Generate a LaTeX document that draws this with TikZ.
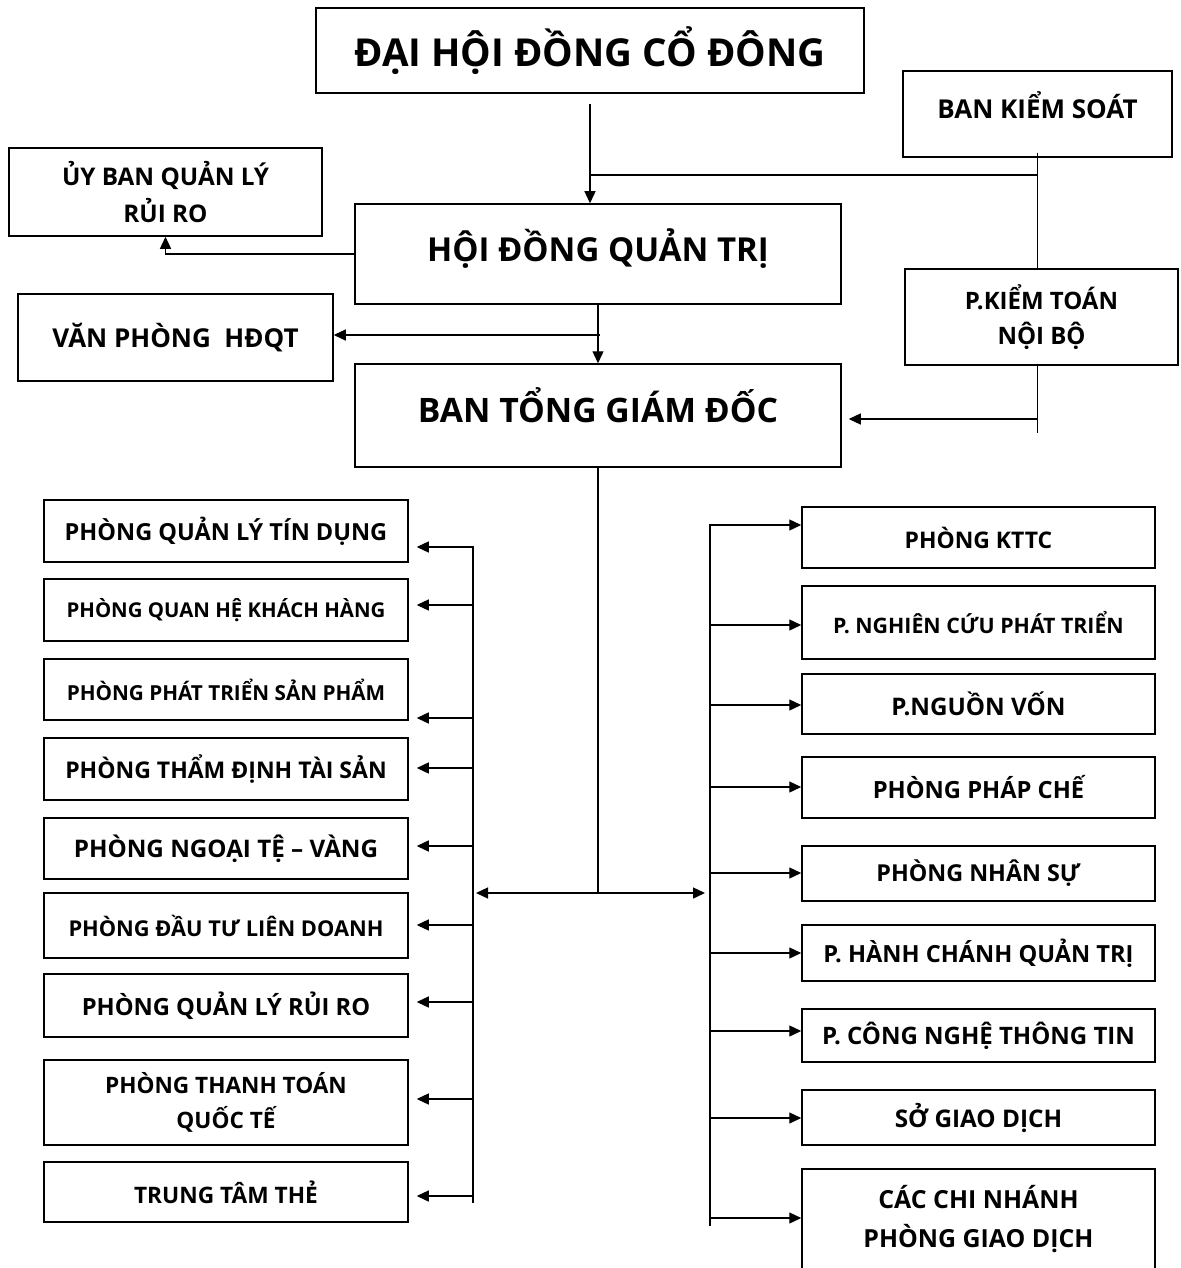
\documentclass[tikz,border=0pt]{standalone}
\usepackage{fontspec}
\setmainfont{Open Sans}
\usetikzlibrary{arrows.meta}
\tikzset{
	every unit/.style={
		draw,
		line width=1.5pt,
		inner sep=0pt,
		align=center,
		font=\bfseries },
	branch/.style={
		-{Triangle[length=12pt,width=11pt]},
		line width=1.3pt },
	link/.style={
		line width=1.3pt },
}

\begin{document}
\begin{tikzpicture}[x=1pt, y=-1pt]
	\useasboundingbox (0,0) rectangle (1180,1268);

	% top of the chart
	\node [every unit, minimum width=548pt, minimum height=85pt, font=\bfseries\fontsize{38.5}{45}\selectfont] (dhdcd) at (590,50.5) {ĐẠI HỘI ĐỒNG CỔ ĐÔNG};
	\node [every unit, minimum width=269pt, minimum height=86pt, text depth=18pt, font=\bfseries\fontsize{26}{30}\selectfont] (bks) at (1037.5,114) {BAN KIỂM SOÁT};
	\node [every unit, minimum width=313pt, minimum height=88pt, font=\bfseries\fontsize{24.3}{37}\selectfont] (ubqlrr) at (165.5,192) {ỦY BAN QUẢN LÝ\\RỦI RO};
	\node [every unit, minimum width=486pt, minimum height=100pt, text depth=18pt, font=\bfseries\fontsize{33}{38}\selectfont] (hdqt) at (598,254) {HỘI ĐỒNG QUẢN TRỊ};
	\node [every unit, minimum width=315pt, minimum height=87pt, font=\bfseries\fontsize{26}{31}\selectfont] (vphdqt) at (175.5,337.5) {VĂN PHÒNG~ HĐQT};
	\node [every unit, minimum width=273pt, minimum height=96pt, font=\bfseries\fontsize{24}{35}\selectfont] (pktnb) at (1041.5,317) {P.KIỂM TOÁN\\NỘI BỘ};
	\node [every unit, minimum width=486pt, minimum height=103pt, text depth=20pt, font=\bfseries\fontsize{33.7}{40}\selectfont] (btgd) at (598,415.5) {BAN TỔNG GIÁM ĐỐC};

	\coordinate (join-top) at (590,175);
	\coordinate (join-office) at (600,335);
	\coordinate (join-audit) at (1038,419);

	\draw [branch, shorten <=10pt] (dhdcd.south -| join-top) -- (hdqt.north -| join-top);
	\draw [link] (join-top) -- (join-top -| bks.south);
	\draw [link] ([yshift=5pt]bks.south) -- (pktnb.north -| bks.south);
	\draw [link] (pktnb.south -| bks.south) -- ++(0,67);
	\draw [branch, shorten >=7pt] (join-audit) -- (join-audit -| btgd.east);
	\draw [branch] (hdqt.west) -| (ubqlrr.south);
	\draw [branch] (hdqt.south) -- (btgd.north);
	\draw [branch] (join-office) -- (join-office -| vphdqt.east);

	% departments
	\coordinate (hub) at (600,893);
	\coordinate (lbus-top) at (473,546);
	\coordinate (lbus-end) at (473,1203);
	\coordinate (rbus-top) at (710,524);
	\coordinate (rbus-end) at (710,1226);

	\draw [link] (btgd.south) -- (btgd.south |- hub);
	\draw [branch, shorten >=3pt] (hub) -- (hub -| lbus-top);
	\draw [branch, shorten >=5pt] (hub) -- (hub -| rbus-top);
	\draw [link] (lbus-top) -- (lbus-end);
	\draw [link] (rbus-top) -- (rbus-end);

	\foreach \y/\h/\a/\f/\t [count=\i] in {
		531/62/547/23.5/PHÒNG QUẢN LÝ TÍN DỤNG,
		610/62/605/20.4/PHÒNG QUAN HỆ KHÁCH HÀNG,
		689.5/61/718/20.7/PHÒNG PHÁT TRIỂN SẢN PHẨM,
		769/62/768/23/PHÒNG THẨM ĐỊNH TÀI SẢN,
		848.5/61/846/24.2/PHÒNG NGOẠI TỆ – VÀNG,
		925.5/65/925/21.8/PHÒNG ĐẦU TƯ LIÊN DOANH,
		1005.5/63/1002/23.7/PHÒNG QUẢN LÝ RỦI RO,
		1102.5/85/1099/22.6/{PHÒNG THANH TOÁN\\QUỐC TẾ},
		1192/60/1196/22.7/TRUNG TÂM THẺ}
	{
		\node [every unit, minimum width=364pt, minimum height=\h*1pt, font=\bfseries\fontsize{\f}{35}\selectfont] (left-\i) at (226,\y) {\t};
		\coordinate (lbus-\i) at (473,\a);
		\draw [branch, shorten >=8pt] (lbus-\i) -- (left-\i.east |- lbus-\i);
	}

	\foreach \y/\h/\a/\f/\t [count=\i] in {
		537.5/61/525/22.9/PHÒNG KTTC,
		622.5/73/625/21.3/P. NGHIÊN CỨU PHÁT TRIỂN,
		704/60/705/24.2/P.NGUỒN VỐN,
		787.5/61/787/23.7/PHÒNG PHÁP CHẾ,
		873.5/55/873/23.3/PHÒNG NHÂN SỰ,
		953/56/953/23.6/P. HÀNH CHÁNH QUẢN TRỊ,
		1035.5/53/1031/24/P. CÔNG NGHỆ THÔNG TIN,
		1117.5/55/1118/24.3/SỞ GIAO DỊCH,
		1219/100/1218/24.9/{CÁC CHI NHÁNH\\PHÒNG GIAO DỊCH}}
	{
		\node [every unit, minimum width=353pt, minimum height=\h*1pt, font=\bfseries\fontsize{\f}{39}\selectfont] (right-\i) at (978.5,\y) {\t};
		\coordinate (rbus-\i) at (710,\a);
		\draw [branch] (rbus-\i) -- (right-\i.west |- rbus-\i);
	}
\end{tikzpicture}
\end{document}
